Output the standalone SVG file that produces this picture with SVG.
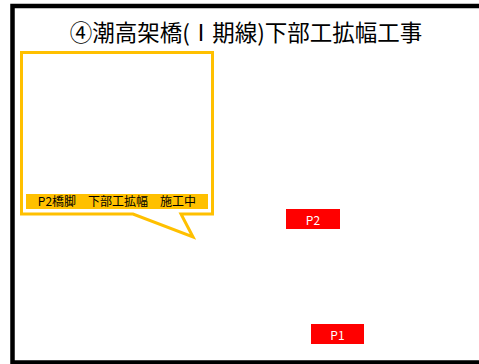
<svg xmlns="http://www.w3.org/2000/svg" width="479" height="364" viewBox="0 0 479 364">
<style>
.jp{font-family:"Noto Sans CJK JP","Liberation Sans",sans-serif}
.pier{fill:#FF0000}
.pl{fill:#FFFFFF;font-size:12px;text-anchor:middle}
</style>
<rect x="0" y="0" width="479" height="364" fill="#FFFFFF"/>
<rect x="12.5" y="6" width="480" height="356.5" fill="#FFFFFF" stroke="#000000" stroke-width="4.5"/>
<text class="jp" x="246" y="41" font-size="22.5" text-anchor="middle" fill="#000000">④潮高架橋(Ⅰ期線)下部工拡幅工事</text>
<g id="callout">
<path d="M21.5,52.5 H212.5 V214 H181 L193,237 L133,214 H21.5 Z" fill="#FFFFFF" stroke="#FFC000" stroke-width="3" stroke-linejoin="miter"/>
<rect x="26" y="194" width="182" height="15" fill="#FFC000"/>
<text class="jp" x="117" y="206" font-size="12" text-anchor="middle" fill="#000000">P2橋脚　下部工拡幅　施工中</text>
</g>
<g id="P2">
<rect class="pier" x="286" y="209" width="54" height="20"/>
<text class="jp pl" x="313" y="224.5">P2</text>
</g>
<g id="P1">
<rect class="pier" x="311" y="324" width="53" height="20"/>
<text class="jp pl" x="337.5" y="339.5">P1</text>
</g>
<g id="connectors"></g>
</svg>
